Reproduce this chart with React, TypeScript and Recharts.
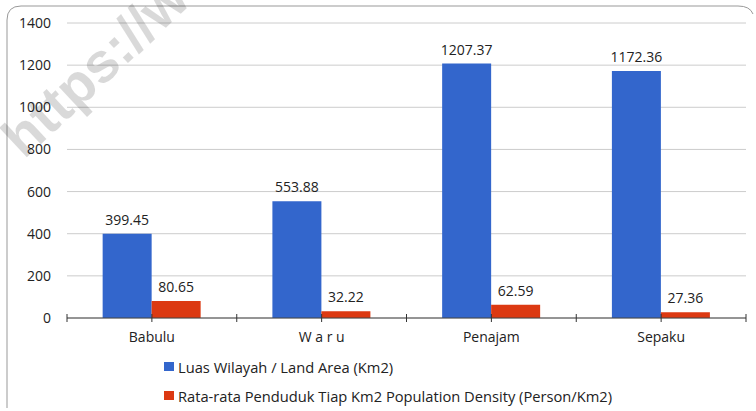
import { BarChart, Bar, XAxis, YAxis, CartesianGrid, Legend, LabelList } from "recharts";

const districts = ["Babulu", "W a r u", "Penajam", "Sepaku"];
const landArea = [399.45, 553.88, 1207.37, 1172.36];
const density = [80.65, 32.22, 62.59, 27.36];
const yTicks = [0, 200, 400, 600, 800, 1000, 1200, 1400];
const seriesNames = [
  "Luas Wilayah / Land Area (Km2)",
  "Rata-rata Penduduk Tiap Km2 Population Density (Person/Km2)",
];
const seriesColors = ["#3366CC", "#DC3912"];

const data = districts.map((name, i) => ({ name, area: landArea[i], density: density[i] }));

const FONT = "'Open Sans', 'DejaVu Sans', sans-serif";

const XTick = (props: any) => {
  const { x, y, payload, index, visibleTicksCount } = props;
  const half = payload?.offset || 85;
  const last = index === visibleTicksCount - 1;
  return (
    <g>
      <line x1={x} x2={x} y1={y - 4} y2={y + 4} stroke="#333" />
      <line x1={x - half} x2={x - half} y1={y - 4} y2={y + 4} stroke="#333" />
      {last && <line x1={x + half} x2={x + half} y1={y - 4} y2={y + 4} stroke="#333" />}
      <text x={x} y={y + 24} textAnchor="middle" fill="#222" fontSize={14} fontFamily={FONT}>
        {payload.value}
      </text>
    </g>
  );
};

const LegendBox = () => (
  <div style={{ fontFamily: FONT, fontSize: 14.7, color: "#222" }}>
    {seriesNames.map((n, i) => (
      <div key={n} style={{ display: "flex", alignItems: "center", height: 29, whiteSpace: "nowrap" }}>
        <span style={{ width: 10, height: 9, background: seriesColors[i], marginRight: 4, display: "inline-block" }} />
        {n}
      </div>
    ))}
  </div>
);

export default function App() {
  return (
    <div style={{ position: "absolute", left: 0, top: 0, width: 756, height: 411, background: "#fff", overflow: "hidden" }}>
      <BarChart
        width={756}
        height={411}
        data={data}
        margin={{ top: 23, right: 10, left: 0, bottom: 63 }}
        barCategoryGap="21%"
        barGap={0}
      >
        <CartesianGrid vertical={false} stroke="#ccc" />
        <YAxis
          domain={[0, 1400]}
          ticks={yTicks}
          width={67}
          axisLine={false}
          tickLine={false}
          tickSize={0}
          tickMargin={16}
          tick={{ fill: "#222", fontSize: 14, fontFamily: FONT }}
        />
        <XAxis
          dataKey="name"
          height={30}
          tickSize={0}
          tickMargin={0}
          tickLine={false}
          axisLine={{ stroke: "#444" }}
          tick={<XTick />}
          interval={0}
        />
        <Legend layout="vertical" align="center" verticalAlign="middle" content={<LegendBox />} wrapperStyle={{ left: 164, top: 352, width: 580 }} />
        <Bar dataKey="area" name={seriesNames[0]} fill={seriesColors[0]} isAnimationActive={false}>
          <LabelList dataKey="area" position="top" offset={9} fill="#222" fontSize={14} fontFamily={FONT} />
        </Bar>
        <Bar dataKey="density" name={seriesNames[1]} fill={seriesColors[1]} isAnimationActive={false}>
          <LabelList dataKey="density" position="top" offset={9} fill="#222" fontSize={14} fontFamily={FONT} />
        </Bar>
      </BarChart>
      <svg width={756} height={411} style={{ position: "absolute", left: 0, top: 0, pointerEvents: "none" }}>
        <path d="M7,408 L7,20 Q7,6 21,6 L738,6 Q750,6 753,14" fill="none" stroke="#999" />
        <text
          x={24}
          y={160}
          transform="rotate(-43 24 160)"
          fill="rgba(0,0,0,0.15)"
          fontSize={56}
          fontWeight="bold"
          fontFamily="'Liberation Sans', Arial, sans-serif"
        >
          https://www
        </text>
      </svg>
    </div>
  );
}
